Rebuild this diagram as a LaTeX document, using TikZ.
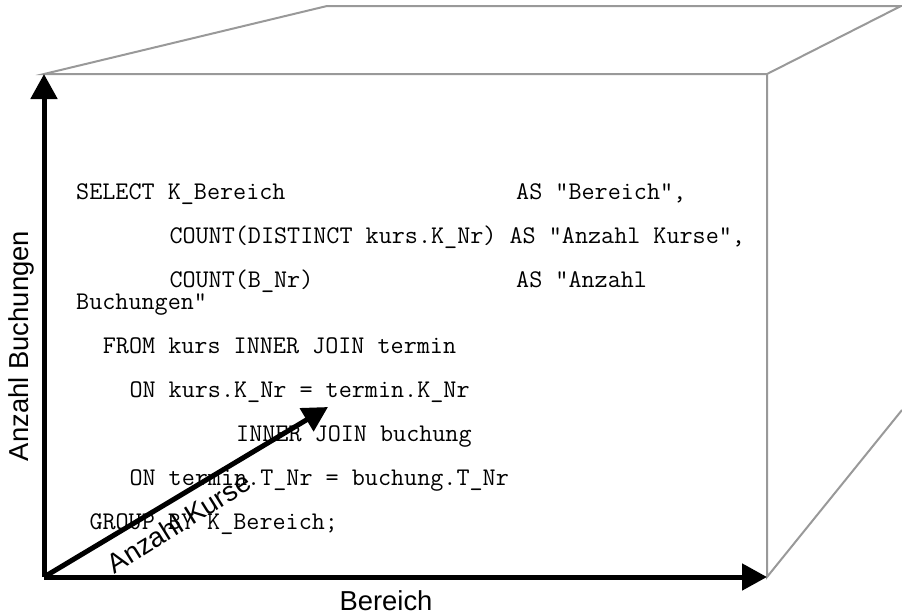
\documentclass[tikz,border=0pt]{standalone}
\usepackage{fontspec}
\setsansfont{Liberation Sans}
\usetikzlibrary{arrows.meta}
\begin{document}
\begin{tikzpicture}[x=1pt,y=-1pt,
  edge/.style={draw=black!40,line width=2pt},
  axis/.style={-{Triangle[length=25pt,width=26pt]},line width=5pt},
  code/.style={anchor=base west,inner sep=0pt,font=\ttfamily\fontsize{25.4}{30}\selectfont},
  axislabel/.style={inner sep=0pt,font=\sffamily\fontsize{27.4}{32}\selectfont}]
\useasboundingbox (0,0) rectangle (902,614);
% corners of the box
\coordinate (o) at (44,577);
\coordinate (ytip) at (44,74);
\coordinate (xtip) at (767,577);
\coordinate (ztip) at (328,407);
\coordinate (ftr) at (767,74);
\coordinate (btl) at (327,6);
\coordinate (btr) at (901,6);
\coordinate (bbr) at (902,410);
\draw[edge] (ytip) -- (btl) -- (btr) -- (ftr) -- cycle;
\draw[edge] (ftr) -- (xtip) -- (bbr);
% the query
\node[code] (select) at (76,199) {SELECT K\_Bereich};
\node[code] (asbereich) at (516,199) {AS "Bereich",};
\node[code] (countk) at (169.3,243) {COUNT(DISTINCT kurs.K\_Nr) AS "Anzahl Kurse",};
\node[code] (countb) at (169.3,287) {COUNT(B\_Nr)};
\node[code] (asanzahl) at (516,287) {AS "Anzahl};
\node[code] (buchungen) at (76,309) {Buchungen"};
\node[code] (from) at (102.7,353) {FROM kurs INNER JOIN termin};
\node[code] (onkurs) at (129.3,397) {ON kurs.K\_Nr = termin.K\_Nr};
\node[code] (join) at (236,441) {INNER JOIN buchung};
\node[code] (ontermin) at (129.3,485) {ON termin.T\_Nr = buchung.T\_Nr};
\node[code] (group) at (89.3,529) {GROUP BY K\_Bereich;};
% axes
\draw[axis] (o) -- (ytip);
\draw[axis] (o) -- (xtip);
\draw[axis] (o) -- (ztip);
\node[axislabel,anchor=base,rotate=90] (ylab) at (28,346) {Anzahl Buchungen};
\node[axislabel,anchor=base] (xlab) at (386,610) {Bereich};
\node[axislabel,anchor=base,rotate=32] (zlab) at (184,531) {Anzahl Kurse};
\end{tikzpicture}
\end{document}
